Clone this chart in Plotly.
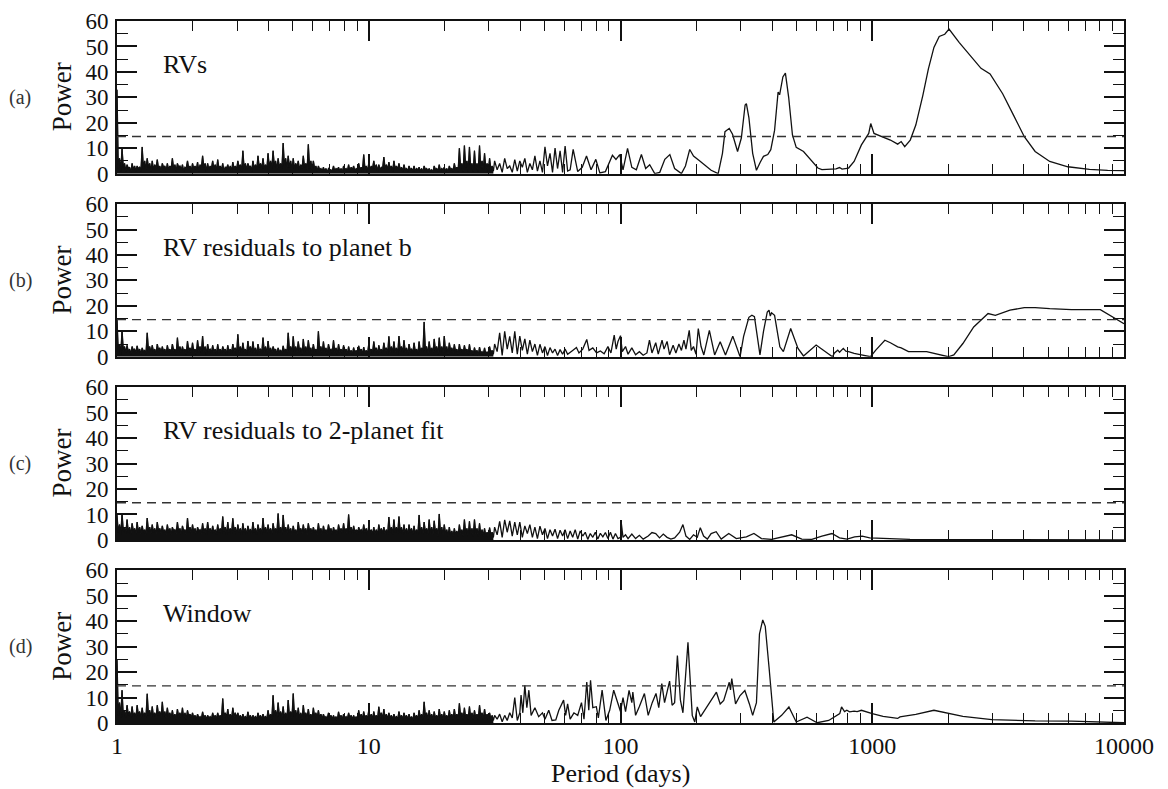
import numpy as np
import plotly.graph_objects as go

# ---------------- data ----------------
THRESH = 14.6           # dashed significance level (power)
DENSE_STEP = 0.005      # decades between samples, log10(P) from 0 to 1.5 (drawn as solid band)
MID_START = 1.5         # medium-density part starts here
MID_STEP = 0.01         # decades between samples in the medium part

PANEL_LETTERS = ["(a)", "(b)", "(c)", "(d)"]
PANEL_TITLES = ["RVs", "RV residuals to planet b", "RV residuals to 2-planet fit", "Window"]
X_TITLE = "Period (days)"
Y_TITLE = "Power"
X_TICKS = [1, 10, 100, 1000, 10000]
Y_TICKS = [0, 10, 20, 30, 40, 50, 60]

# ---- panel (a) ----
DENSE_A = [33,2,6,1, 10,2.5,4,1, 3.5,2,2.5,0.5, 4,1.5,3,1, 3,2,2.5,1,
           10.5,2,5,1.5, 6,2.5,4,1, 5,1.5,3.5,2, 5.5,2,3,1, 4,2.5,3,1,
           4,1.5,3,2, 6,2,3.5,1, 4,2.5,3,1.5, 3.5,1,2.5,2, 5,2,3,1,
           4,2,3,1.5, 4.5,1,3.5,2, 7,2.5,4,1, 4,1.5,3,2, 5,2,3.5,1,
           5.5,2,3,1.5, 4,1,2.5,2, 3.5,1.5,3,1, 4.5,2,3,1.5, 5,2.5,3.5,1,
           9,2,4,1.5, 4,2.5,3,1, 5,2,3.5,1.5, 7,2.5,4,2, 6,2,3.5,1.5,
           8,2.5,5,2, 9,3,5,1.5, 6,2.5,4,2, 12,3,6,2, 7,2.5,5,1.5,
           6,2,4,2.5, 5,1.5,3.5,2, 7,2.5,4,1.5, 11.5,2,5,1.5, 5,2,3,1,
           3,1.5,2,1, 2.5,1,2,0.5, 2,1.5,1.5,1, 3,1,2,1.5, 2.5,1,2,0.5,
           3,1.5,2,1, 3.5,1,2.5,1.5, 3,1,2,1.5, 4,1.5,2.5,1, 7.5,2,3,1,
           4,1.5,3,2, 5,2,3.5,1, 3.5,1.5,2.5,2, 6.5,2,3.5,1.5, 4.5,2,3,1,
           5,2,3,1.5, 4,1.5,2.5,1, 3.5,1.5,2,1, 3,1.5,2,1, 3,1,2,1.5,
           2.5,1,2,0.5, 3,1.5,2,1, 2,1,1.5,0.5, 3,1.5,2,1, 3.5,1,2,1.5,
           2.5,1,2,0.5, 3,1.5,2,1, 4,1.5,2.5,1, 10,2,4,1, 11,2.5,5,1,
           10.5,2,4,1, 9,1.5,4,1, 11,2,5,1.5, 8,2,4,1, 6,1.5,3,1]
MID_A = [5,1.5,4,0.5,6,2,3,0.5,5.5,1, 5,2.5,6,0.5,4,1.5,7,1,5,0.5, 10.5,3,8,0.5,10,2,9,0.5,10.8,1]
LOGP_A = [1.80, 1.812, 1.83, 1.848, 1.865, 1.883, 1.902, 1.918, 1.94, 1.968, 1.982, 1.997,
          2.01, 2.028, 2.045, 2.063, 2.083, 2.10, 2.116, 2.136, 2.156, 2.176, 2.196, 2.215,
          2.242, 2.258, 2.275, 2.29, 2.315, 2.34, 2.36, 2.388, 2.405, 2.415, 2.432, 2.445,
          2.465, 2.48, 2.495, 2.50, 2.51, 2.525, 2.54, 2.555, 2.568, 2.585, 2.597, 2.612,
          2.626, 2.632, 2.645, 2.655, 2.668, 2.683, 2.698, 2.727, 2.755, 2.784, 2.80, 2.856,
          2.87, 2.88, 2.906, 2.928, 2.957, 2.986, 2.994, 3.007, 3.072, 3.101, 3.115, 3.129,
          3.151, 3.173, 3.201, 3.223, 3.245, 3.266, 3.288, 3.305, 3.345, 3.388, 3.432, 3.468,
          3.518, 3.561, 3.604, 3.647, 3.705, 3.777, 3.863, 3.935, 4.0]
POW_A = [1.5, 9.5, 0.8, 2.5, 6.9, 1.5, 5.6, 0.3, 0.8, 7.2, 5.6, 7.5,
         1.5, 9.9, 2.5, 1.5, 7.5, 2.0, 3.5, 0.0, 0.5, 5.6, 7.5, 2.0,
         0.0, 3.0, 9.5, 6.9, 5.0, 3.0, 1.3, 0.0, 8.0, 16.5, 17.8, 15.5,
         8.7, 14, 27.0, 27.5, 22, 8, 1.3, 4.5, 6.8, 7.5, 9.4, 17,
         32.1, 31, 38, 39.5, 30, 15.2, 10.3, 8.7, 5.5, 2.2, 1.6, 1.9,
         2.4, 1.8, 2.2, 4.8, 11.3, 15.8, 19.7, 15.8, 13.2, 11.6, 12.6, 10.6,
         13.2, 19.1, 30.8, 41.2, 49.6, 53.9, 54.8, 56.8, 51.6, 46.4, 41.4, 39.2,
         31.4, 23.0, 14.5, 8.7, 4.8, 2.7, 1.7, 1.3, 1.2]

# ---- panel (b) ----
DENSE_B = [15,2,5,1, 10.5,2.5,4,1.5, 4.5,2,3,1, 4,2.5,3,1.5, 4.3,2,3,1,
           3.5,2,2.5,1, 9.4,2.5,4,1.5, 4.5,2,3,1, 5,2.5,3.5,1.5, 4,2,3,1,
           4.5,2,3,1.5, 5,2.5,3,1, 7.5,2,4,1.5, 4,2,3,1, 6.2,2.5,3.5,1.5,
           5.5,2,3,1, 6.5,2.5,4,1.5, 8.1,2,4,1, 5,2.5,3,1.5, 4.5,2,3,1,
           4.9,2,3,1.5, 4,2.5,3,1, 4.5,2,3,1.5, 5,2.5,3.5,1, 8.8,2,4,1.5,
           5.5,2,3,1, 6.2,2.5,4,1.5, 6,2,3.5,1, 5,2.5,3,1.5, 7.5,2,4,1,
           6.2,2,3.5,1.5, 4,2.5,3,1, 3.5,2,2.5,1.5, 4.3,2,3,1, 9.4,2.5,4,1.5,
           8,2,4,1.5, 6,2.5,3.5,1, 7,2,4,1.5, 6.5,2.5,3.5,1, 5,2,3,1.5,
           10,2.5,4,1.5, 6,2,3.5,1, 5,2.5,3,1.5, 6.5,2,3.5,1, 5,2,3,1.5,
           4.5,2,3,1, 4,1.5,2.5,1, 3.6,1.5,2.5,1, 4.3,2,3,1, 3.8,1.5,2.5,1,
           5,2,3,1.5, 6,2.5,3.5,1, 4.5,2,3,1.5, 5.5,2.5,3.5,1, 8,2,4,1.5,
           6,2,3.5,1, 8.1,2.5,4,1.5, 6.5,2,3.5,1, 5,2.5,3,1.5, 5.5,2,3,1,
           6,2,3.5,1.5, 13.7,2.5,4,1, 6,2,3.5,1.5, 7,2.5,4,1, 7.5,2,4,1.5,
           8.1,2,4,1, 5.5,2.5,3.5,1.5, 4.9,2,3,1, 5,2,3,1.5, 4.5,2,3,1,
           4.9,1.5,2.5,1, 3.6,1.5,2.5,0.5, 3.8,1.5,2,1, 3.5,1,2,0.5, 4,1.5,2.5,1]
MID_B = [5,2,9.4,0.5,10,3,8,1.5,10,1, 8.1,2.5,7,1,6.5,2,5,0.5,4.9,1.5, 4,0.5,3.6,1.5,3,0.5,2.8,1,3,1]
LOGP_B = [1.81, 1.825, 1.835, 1.85, 1.866, 1.875, 1.89, 1.905, 1.92, 1.935, 1.95, 1.962,
          1.975, 1.983, 1.99, 2.0, 2.007, 2.02, 2.03, 2.045, 2.06, 2.075, 2.09, 2.105,
          2.115, 2.125, 2.14, 2.15, 2.165, 2.173, 2.185, 2.195, 2.209, 2.22, 2.232, 2.242,
          2.252, 2.26, 2.273, 2.281, 2.29, 2.30, 2.309, 2.32, 2.331, 2.353, 2.374, 2.396,
          2.417, 2.446, 2.475, 2.489, 2.51, 2.522, 2.532, 2.554, 2.568, 2.583, 2.59, 2.595,
          2.60, 2.612, 2.633, 2.647, 2.676, 2.705, 2.727, 2.777, 2.842, 2.85, 2.863, 2.87,
          2.885, 2.895, 2.906, 2.928, 2.957, 2.993, 3.014, 3.05, 3.072, 3.101, 3.115, 3.144,
          3.216, 3.259, 3.302, 3.324, 3.36, 3.403, 3.46, 3.489, 3.547, 3.604, 3.647, 3.705,
          3.791, 3.906, 3.964, 4.0]
POW_B = [2.5, 3.6, 1.5, 3, 6.8, 2.5, 3.5, 1.5, 2.3, 1.2, 4, 1.5,
         8.5, 3, 6, 8.3, 2, 4, 1, 3.5, 0.8, 2, 0.6, 1.5,
         6.5, 1.5, 5.5, 1, 6.5, 3, 6, 0.8, 4.5, 1.5, 5, 2.5,
         6.5, 3, 10.4, 2.5, 4, 1, 11.1, 4, 0.7, 10.4, 0.7, 5.9,
         0.7, 8.1, 0.0, 8, 15.5, 16.3, 15.8, 0.7, 10, 17.6, 18.3, 16,
         17.3, 16.3, 3.9, 2.0, 11.1, 3.3, 0.3, 4.6, 0.0, 1.5, 2.6, 1.8,
         3.3, 2.2, 2.0, 1.3, 0.7, 0.0, 2.6, 6.5, 5.5, 3.9, 3.5, 2.0,
         2.0, 1.0, 0.0, 0.7, 5.2, 11.7, 17.0, 16.3, 18.3, 19.3, 19.3, 18.9,
         18.5, 18.5, 15.0, 13.0]

# ---- panel (c) ----
DENSE_C = [9.8,3,6,2, 10.4,3.5,5,2.5, 8,3,5,2, 6.5,3.5,4.5,2, 7,3,5,2.5,
           5.5,3,4,2, 8.6,3.5,5,2.5, 6,3,4.5,2, 7,3.5,4.5,2.5, 5.5,3,4,2,
           6,3,4.5,2, 5,3.5,4,2.5, 7,3,4.5,2, 5.5,3.5,4,2, 8.6,3,5,2.5,
           6,3,4.5,2, 5,3.5,4,2.5, 6.5,3,4.5,2, 7,3.5,4.5,2.5, 5.5,3,4,2,
           6,3,4.5,2.5, 9.2,3.5,5,2, 7,3,4.5,2.5, 8.5,3.5,5,2, 6,3,4.5,2,
           6.5,3,4.5,2, 5.5,3.5,4,2.5, 7,3,4.5,2, 6,3.5,4.5,2, 8.6,3,5,2.5,
           6,3,4.5,2, 6.5,3.5,4.5,2.5, 10.4,3,5,2, 9.8,3.5,5,2.5, 6,3,4.5,2,
           5.5,3,4,2, 7,3.5,4.5,2.5, 6,3,4.5,2, 6.5,3.5,4.5,2.5, 5,3,4,2,
           6.5,3,4.5,2, 5.5,3,4,2.5, 6,3.5,4.5,2, 5,3,4,2, 6,3.5,4.5,2.5,
           6.5,3,4.5,2, 10,3.5,5,2.5, 5.5,3,4,2, 5,3.5,4,2.5, 6,3,4.5,2,
           5.5,3,4,2, 5,2.5,4,2, 6,3,4.5,2.5, 5,2.5,4,2, 9,3,5,2,
           8,3,5,2.5, 9.2,3,5,2, 6,2.5,4.5,2, 6,3,4.5,2, 5.5,2.5,4,2,
           9.8,2.5,5,2, 7,3,4.5,2, 8,2.5,5,2, 7.5,3,4.5,1.5, 10.2,2.5,5,2,
           6,2.5,4,1.5, 5,2,3.5,1.5, 4.5,2,3.5,1.5, 6,2.5,4,1.5, 8,2.5,4.5,1.5,
           7.3,2,4.5,1.5, 8,2.5,4.5,1.5, 6.5,2,4,1.5, 4.5,1.5,3,1, 4.8,2,3,1]
MID_C = [5,2,7.3,1,7.9,3,7.5,1.5,7,2, 7,1,5.5,2.5,6,1,5,0.5, 5.4,2,4.5,0.5,4,1.5,4.2,0.5,
         3.8,1.5,4,0.5,3.5,1,4,0.3,3.5,1.5, 3,0.2,2.5,1,3,0.3,2.6,1.2,2.9,0.5,3,0.3,2.5,0.5]
LOGP_C = [2.0, 2.003, 2.01, 2.02, 2.03, 2.045, 2.06, 2.075, 2.09, 2.11, 2.125, 2.14,
          2.155, 2.17, 2.185, 2.2, 2.215, 2.235, 2.248, 2.26, 2.275, 2.29, 2.305, 2.317,
          2.33, 2.345, 2.36, 2.38, 2.40, 2.43, 2.46, 2.5, 2.53, 2.56, 2.6, 2.64,
          2.68, 2.72, 2.76, 2.80, 2.84, 2.87, 2.9, 2.93, 2.96, 2.99, 3.05, 3.15,
          3.3, 3.6, 4.0]
POW_C = [1, 6.7, 1, 2, 0.5, 2.3, 0.5, 1.8, 0.3, 1.5, 2.9, 2.5,
         0.8, 2.3, 1.0, 0.3, 0.8, 3, 6, 1.5, 0.2, 2, 1, 4.8,
         1.5, 0.3, 2.5, 3.2, 0.3, 2.5, 0.5, 1.2, 2.5, 0.5, 0.2, 1.0,
         2.0, 0.3, 0.2, 1.5, 2.5, 0.8, 0.3, 1.2, 1.5, 0.8, 0.5, 0.2,
         0.1, 0.05, 0.0]

# ---- panel (d) ----
DENSE_D = [25,3,8,2, 12.9,2.5,5,2, 7,3,4.5,2, 6.5,2.5,4,2, 7,3,4.5,2,
           6,2.5,4,2, 11.5,3,5,2, 6.5,2.5,4,2, 7,3,4.5,2, 8.3,2.5,4.5,2,
           6,2.5,4,2, 5,2,3.5,1.5, 5.5,2.5,4,2, 6,2,4,1.5, 5,2.5,3.5,2,
           4,2,3,1.5, 3.5,2,2.5,1.5, 4.4,2,3,1.5, 3,2,2.5,1.5, 4,2,3,1.5,
           4,2,3,1.5, 9.6,2.5,4,2, 5.5,2,3.5,1.5, 6,2.5,4,2, 4,2,3,1.5,
           3.5,2,2.5,1.5, 4.4,2,3,1.5, 3,2,2.5,1.5, 4,2,3,1.5, 3.5,2,2.5,1.5,
           5,2,3.5,1.5, 10.9,2.5,5,2, 8,2.5,4.5,2, 6.5,2,4,1.5, 9,2.5,4.5,2,
           11.6,2.5,5,2, 6,2,4,1.5, 7,2.5,4,2, 5.5,2,3.5,1.5, 6,2.5,4,2,
           5,2,3.5,1.5, 3.5,2,2.5,1.5, 4,2,3,1.5, 3,1.5,2.5,1, 4.4,2,3,1.5,
           3.5,2,2.5,1.5, 4,2,3,1.5, 3,1.5,2.5,1, 5,2,3.5,1.5, 4.5,2,3,1.5,
           5,2,3.5,1.5, 4.5,2,3,1.5, 6.4,2.5,4,1.5, 5.5,2,3.5,1.5, 4,2,3,1.5,
           3.5,2,2.5,1.5, 4.5,2,3,1.5, 4,2,3,1.5, 3.5,1.5,2.5,1, 4,2,3,1.5,
           5,2,3.5,1.5, 8.3,2.5,4,1.5, 5,2,3.5,1.5, 4.5,2,3,1.5, 5.5,2,3.5,1.5,
           4.5,2,3,1.5, 5,2,3.5,1.5, 5.5,2,3.5,1.5, 7.7,2.5,4,1.5, 6,2,3.5,1.5,
           6.5,2,4,1.5, 5,2,3.5,1.5, 7,2.5,4,1.5, 5.5,2,3.5,1.5, 4,1.5,3,1]
MID_D = [3,1.5,3.5,0.5,3,1,4,2,10,1]
LOGP_D = [1.60, 1.605, 1.612, 1.62, 1.628, 1.636, 1.645, 1.66, 1.675, 1.69, 1.70, 1.715,
          1.728, 1.743, 1.755, 1.774, 1.782, 1.79, 1.80, 1.815, 1.83, 1.845, 1.855, 1.866,
          1.874, 1.881, 1.89, 1.904, 1.912, 1.927, 1.942, 1.957, 1.973, 1.985, 2.0, 2.01,
          2.02, 2.034, 2.045, 2.049, 2.06, 2.075, 2.095, 2.11, 2.126, 2.141, 2.152, 2.164,
          2.175, 2.195, 2.205, 2.215, 2.226, 2.238, 2.248, 2.268, 2.285, 2.295, 2.305, 2.318,
          2.338, 2.353, 2.381, 2.396, 2.41, 2.432, 2.437, 2.442, 2.457, 2.475, 2.494, 2.512,
          2.525, 2.54, 2.552, 2.565, 2.575, 2.59, 2.609, 2.64, 2.669, 2.698, 2.741, 2.781,
          2.827, 2.871, 2.878, 2.89, 2.899, 2.91, 2.928, 2.94, 2.957, 3.0, 3.043, 3.101,
          3.11, 3.122, 3.173, 3.245, 3.302, 3.36, 3.475, 3.647, 3.791, 3.935, 4.0]
POW_D = [4, 11, 4, 14.8, 6, 12.9, 3, 6, 2.5, 4, 1.5, 5,
         1, 1.2, 5, 9, 3, 7.5, 1.5, 4, 3, 8, 1.5, 16.1,
         5, 16.8, 6, 6.4, 2, 12.9, 1.0, 5, 12.9, 8.8, 4.5, 10,
         4.5, 12.8, 8, 12.2, 3, 6.5, 11.6, 3, 8, 11.6, 6, 15.5,
         8, 16.5, 7, 8, 26.5, 9, 4, 31.7, 3, 0.4, 6.3, 2.5,
         5.6, 7.6, 12.1, 7.5, 8.9, 16, 13, 17.5, 7.5, 10.8, 12.8, 7.5,
         3, 8, 35, 40.5, 38, 21.9, 0.4, 3, 6.3, 0.4, 2.3, 0.1,
         1, 3.7, 6.3, 4.5, 5, 4.4, 4.7, 4.5, 5, 3.7, 2.6, 1.8,
         2.4, 2.6, 3.4, 5.0, 3.9, 2.6, 1.3, 0.8, 0.7, 0.4, 0.1]

PANELS = [(DENSE_A, MID_A, LOGP_A, POW_A), (DENSE_B, MID_B, LOGP_B, POW_B),
          (DENSE_C, MID_C, LOGP_C, POW_C), (DENSE_D, MID_D, LOGP_D, POW_D)]

# ---------------- figure ----------------
FONT = "Liberation Serif"
INK = "#111111"
# the page adds an 8px body margin, so the figure is drawn 8px smaller
W, H = 1160, 781
ML, MR, MT, MB = 109, 44, 13, 66
PW, PH = W - ML - MR, H - MT - MB
gap = 30.5 / PH
h = (1 - 3 * gap) / 4

fig = go.Figure()
layout = {}
annotations = []
for i, (dense, mid, logp, powr) in enumerate(PANELS):
    n = i + 1
    xa = "x" if n == 1 else f"x{n}"
    ya = "y" if n == 1 else f"y{n}"
    top = 1 - i * (h + gap)
    dom = [max(top - h, 0), min(top, 1)]

    lp_dense = np.arange(len(dense)) * DENSE_STEP
    lp_mid = MID_START + np.arange(len(mid)) * MID_STEP
    lp_all = np.concatenate([lp_dense, lp_mid, np.array(logp)])
    pw_all = np.concatenate([np.array(dense, float), np.array(mid, float), np.array(powr, float)])

    fig.add_trace(go.Scatter(x=10 ** lp_dense, y=dense, mode="lines", fill="tozeroy",
                             fillcolor=INK, line=dict(color=INK, width=0.8),
                             xaxis=xa, yaxis=ya, showlegend=False, hoverinfo="skip"))
    fig.add_trace(go.Scatter(x=10 ** lp_all, y=pw_all, mode="lines",
                             line=dict(color=INK, width=1.3),
                             xaxis=xa, yaxis=ya, showlegend=False))
    fig.add_trace(go.Scatter(x=[X_TICKS[0], X_TICKS[-1]], y=[THRESH, THRESH], mode="lines",
                             line=dict(color="#333333", width=1.4, dash="9px,6px"),
                             xaxis=xa, yaxis=ya, showlegend=False, hoverinfo="skip"))

    xkey = "xaxis" if n == 1 else f"xaxis{n}"
    ykey = "yaxis" if n == 1 else f"yaxis{n}"
    layout[xkey] = dict(
        type="log", range=[0, 4], domain=[0, 1], anchor=ya,
        tickvals=X_TICKS, ticktext=[str(v) for v in X_TICKS],
        showticklabels=(n == 4), ticks="inside", ticklen=20, tickwidth=1.6,
        tickcolor=INK, showline=True, linewidth=2, linecolor=INK, mirror="ticks",
        showgrid=False, zeroline=False, ticklabeloverflow="allow",
        minor=dict(ticks="inside", ticklen=10, tickwidth=1.4, tickcolor=INK,
                   tickvals=[m * 10 ** d for d in range(4) for m in range(2, 10)], showgrid=False),
        tickfont=dict(family=FONT, size=24, color=INK), ticklabelstandoff=0,
    )
    layout[ykey] = dict(
        range=[0, 60], domain=dom, anchor=xa, tickvals=Y_TICKS,
        ticks="inside", ticklen=20, tickwidth=1.6, tickcolor=INK,
        showline=True, linewidth=2, linecolor=INK, mirror="ticks",
        showgrid=False, zeroline=False, ticklabeloverflow="allow",
        minor=dict(ticks="inside", ticklen=11, tickwidth=1.4, tickcolor=INK, dtick=5, showgrid=False),
        tickfont=dict(family=FONT, size=23, color=INK), ticklabelstandoff=2,
    )
    mid_y = (dom[0] + dom[1]) / 2
    annotations.append(dict(text=PANEL_LETTERS[i], xref="paper", yref="paper",
                            x=(12 - ML) / PW, y=mid_y, xanchor="center", yanchor="middle",
                            showarrow=False, font=dict(family=FONT, size=20, color="#333333")))
    annotations.append(dict(text=Y_TITLE, xref="paper", yref="paper",
                            x=(54 - ML) / PW, y=mid_y, xanchor="center", yanchor="middle",
                            textangle=-90, showarrow=False,
                            font=dict(family=FONT, size=27, color=INK)))
    annotations.append(dict(text=PANEL_TITLES[i], xref=xa, yref=ya, x=np.log10(1.5), y=43,
                            xanchor="left", yanchor="middle", showarrow=False,
                            font=dict(family=FONT, size=26, color=INK)))

annotations.append(dict(text=X_TITLE, xref="paper", yref="paper", x=0.5,
                        y=-(765 - (H - MB)) / PH, xanchor="center", yanchor="middle",
                        showarrow=False, font=dict(family=FONT, size=26, color=INK)))

fig.update_layout(
    width=W, height=H,
    margin=dict(l=ML, r=MR, t=MT, b=MB, autoexpand=False),
    paper_bgcolor="white", plot_bgcolor="white",
    annotations=annotations,
    **layout,
)

fig.write_html("out.html")
